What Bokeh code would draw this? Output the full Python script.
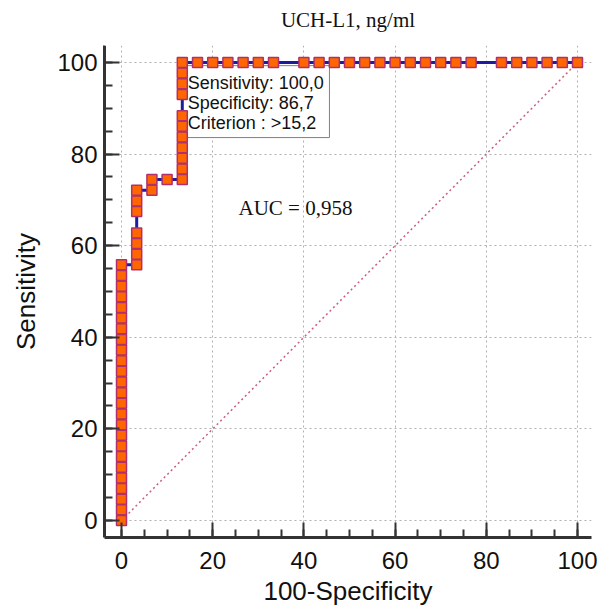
from bokeh.plotting import figure
from bokeh.models import Range1d, FixedTicker, Title
from bokeh.core.properties import value
from bokeh.embed import file_html
from bokeh.resources import INLINE

# ---- data ----
title_text = "UCH-L1, ng/ml"
x_label = "100-Specificity"
y_label = "Sensitivity"
auc_text = "AUC = 0,958"
box_lines = ["Sensitivity: 100,0", "Specificity: 86,7", "Criterion : >15,2"]
major_ticks = [0, 20, 40, 60, 80, 100]

# 100-Specificity of each ROC point
fpr = [0, 0, 0, 0, 0, 0, 0, 0, 0, 0, 0, 0, 0, 0, 0, 0, 0, 0, 0, 0, 0, 0, 0, 0, 0,
       3.33, 3.33, 3.33, 3.33, 3.33, 3.33, 3.33,
       6.67, 6.67,
       10.0,
       13.33, 13.33, 13.33, 13.33, 13.33, 13.33, 13.33, 13.33, 13.33, 13.33, 13.33,
       16.67, 20.0, 23.33, 26.67, 30.0, 33.33, 40.0, 43.33, 46.67, 50.0, 53.33, 56.67,
       60.0, 63.33, 66.67, 70.0, 73.33, 76.67, 83.33, 86.67, 90.0, 93.33, 96.67, 100.0]
# Sensitivity of each ROC point
sens = [0, 2.33, 4.65, 6.98, 9.30, 11.63, 13.95, 16.28, 18.60, 20.93, 23.26, 25.58,
        27.91, 30.23, 32.56, 34.88, 37.21, 39.53, 41.86, 44.19, 46.51, 48.84, 51.16,
        53.49, 55.81,
        55.81, 58.14, 60.47, 62.79, 67.44, 69.77, 72.09,
        72.09, 74.42,
        74.42,
        74.42, 76.74, 79.07, 81.40, 83.72, 86.05, 88.37, 93.02, 95.35, 97.67, 100.0,
        100.0, 100.0, 100.0, 100.0, 100.0, 100.0, 100.0, 100.0, 100.0, 100.0, 100.0, 100.0,
        100.0, 100.0, 100.0, 100.0, 100.0, 100.0, 100.0, 100.0, 100.0, 100.0, 100.0, 100.0]
diag_x = [0, 100]
diag_y = [0, 100]

SANS = "Liberation Sans"
SERIF = "Liberation Serif"

p = figure(width=600, height=608, output_backend="svg", toolbar_location=None,
           title=None,
           x_range=Range1d(-3.73, 103.07), y_range=Range1d(-3.71, 103.7),
           min_border_left=104, min_border_right=9, min_border_top=45, min_border_bottom=71)
p.outline_line_color = None
p.background_fill_color = "white"
p.border_fill_color = "white"

# blank (white) spacer next to the frame, then the visible title above it
p.add_layout(Title(text=".", text_color="white", text_font=SANS, text_font_size="15px",
                   standoff=0), "above")
p.add_layout(Title(text=title_text, align="center", vertical_align="top", standoff=0,
                   text_font=SERIF, text_font_size="21px", text_font_style="normal",
                   text_color="#111111"), "above")

for ax in (p.xaxis[0], p.yaxis[0]):
    ax.ticker = FixedTicker(ticks=major_ticks, minor_ticks=list(range(0, 101, 5)))
    ax.axis_line_width = 3
    ax.axis_line_color = "#333333"
    ax.major_tick_line_color = "#333333"
    ax.major_tick_line_width = 2
    ax.minor_tick_line_color = "#333333"
    ax.minor_tick_line_width = 2
    ax.major_tick_out = 0
    ax.major_tick_in = 15
    ax.minor_tick_out = 0
    ax.minor_tick_in = 8
    ax.major_label_text_font = SANS
    ax.major_label_text_font_size = "24px"
    ax.major_label_text_color = "#111111"
    ax.axis_label_text_font = SANS
    ax.axis_label_text_font_size = "26px"
    ax.axis_label_text_font_style = "normal"
    ax.axis_label_text_color = "#111111"

p.xaxis.axis_label = x_label
p.yaxis.axis_label = y_label
p.xaxis.major_label_standoff = 14
p.xaxis.axis_label_standoff = 4
p.yaxis.major_label_standoff = 7
p.yaxis.axis_label_standoff = 13

for g in (p.xgrid[0], p.ygrid[0]):
    g.ticker = FixedTicker(ticks=major_ticks)
    g.grid_line_color = "#b0b0b0"
    g.grid_line_dash = "2 3"
    g.grid_line_width = 1

# diagonal reference line
p.line(diag_x, diag_y, line_color="#c8607a", line_dash="2 3", line_width=1.5)

# criterion box
p.quad(left=[13.2], right=[45.6], top=[99.3], bottom=[83.6],
       fill_color="white", line_color="#808080", line_width=1)
p.text(x=[14.54, 14.54, 14.54], y=[95.6, 91.1, 86.7], text=box_lines,
       text_font=value(SANS), text_font_size="18px", text_color="#111111",
       text_align="left", text_baseline="middle")

# ROC curve
p.line(fpr, sens, line_color="#1c1c9c", line_width=3)
p.scatter(fpr, sens, marker="square", size=10, fill_color="#ff6600",
          line_color="#b0306e", line_width=1.5)

p.text(x=[25.66], y=[68.3], text=[auc_text], text_font=value(SERIF),
       text_font_size="21px", text_color="#111111", text_align="left",
       text_baseline="middle")

open("out.html", "w").write(file_html(p, INLINE))
